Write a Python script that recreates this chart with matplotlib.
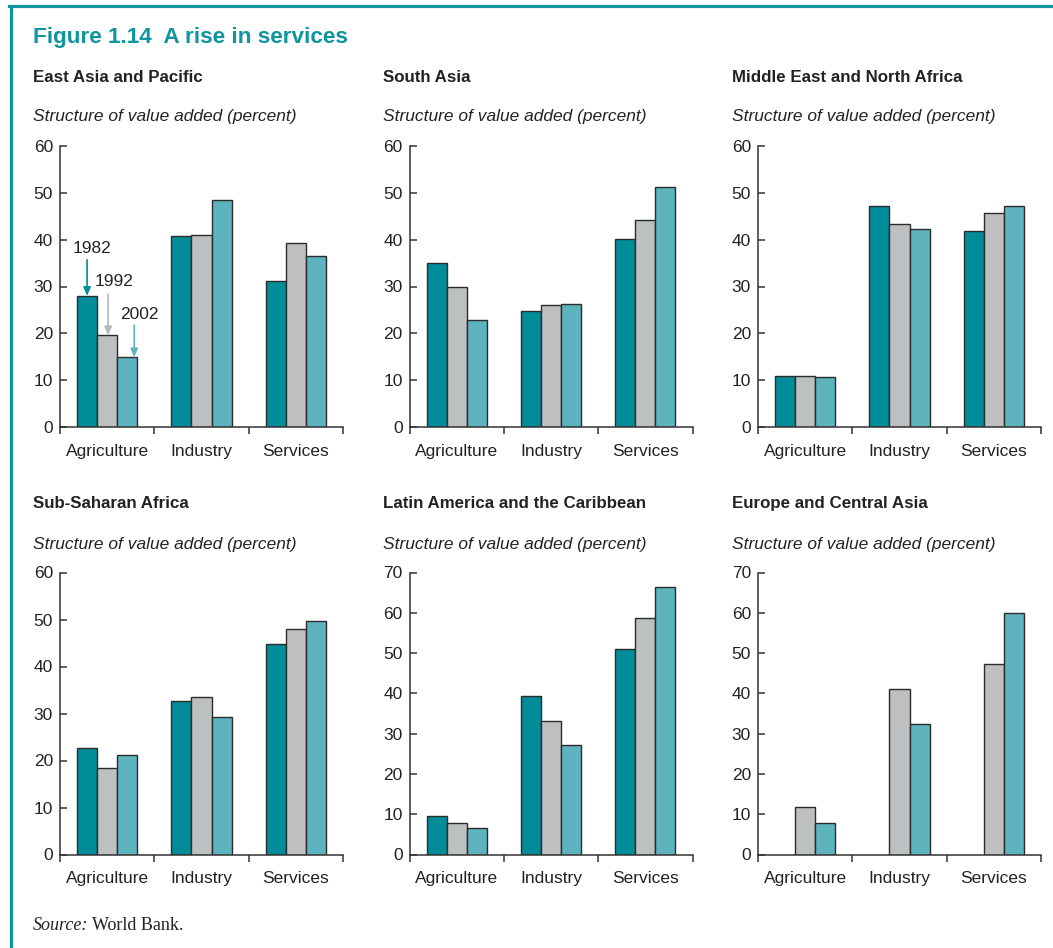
import numpy as np
import matplotlib
matplotlib.use("Agg")
import matplotlib.pyplot as plt
from matplotlib.lines import Line2D

plt.rcParams['font.family'] = ['Liberation Sans', 'DejaVu Sans']

categories = ["Agriculture", "Industry", "Services"]
years = ["1982", "1992", "2002"]

regions = ["East Asia and Pacific", "South Asia", "Middle East and North Africa",
           "Sub-Saharan Africa", "Latin America and the Caribbean", "Europe and Central Asia"]

# values per region: rows = years (1982, 1992, 2002), cols = categories
east_asia = [[28.0, 40.7, 31.2], [19.6, 41.1, 39.3], [14.9, 48.5, 36.5]]
south_asia = [[35.0, 24.8, 40.2], [30.0, 26.0, 44.2], [22.8, 26.2, 51.2]]
mena = [[10.8, 47.2, 41.9], [10.9, 43.4, 45.8], [10.7, 42.2, 47.1]]
ssa = [[22.7, 32.6, 44.7], [18.4, 33.6, 48.0], [21.1, 29.2, 49.7]]
lac = [[9.5, 39.3, 50.9], [7.8, 33.1, 58.8], [6.6, 27.1, 66.3]]
eca = [[np.nan, np.nan, np.nan], [11.7, 41.0, 47.2], [7.7, 32.3, 59.9]]

all_data = [east_asia, south_asia, mena, ssa, lac, eca]
ymax = [60, 60, 60, 60, 70, 70]

colors = ["#008D99", "#BDBFC1", "#5DB3BE"]
teal = "#0E959E"
edge = "#2B2B2B"
axcol = "#333333"
txtcol = "#222222"

W, H = 1053, 948
fig = plt.figure(figsize=(W / 100, H / 100), dpi=100)

# frame lines
fig.add_artist(Line2D([9 / W, 1], [1 - 5.5 / H, 1 - 5.5 / H], transform=fig.transFigure,
                      color=teal, lw=2.3))
fig.add_artist(Line2D([10.5 / W, 10.5 / W], [0, 1 - 5.5 / H], transform=fig.transFigure,
                      color=teal, lw=2.3))

fig.text(33 / W, 1 - 38 / H, "Figure 1.14  A rise in services", color=teal,
         fontsize=16.2, fontweight='bold', family=['Liberation Sans', 'DejaVu Sans'],
         va='center', ha='left')

lefts = [60, 409.5, 758]
row_bottoms = [427, 854.5]
row_tops = [146, 572.5]
title_y = [78, 504]
sub_y = [117, 545]
text_x = [33, 383, 732]
axw = 283

FS = 12.5
bw = 0.213
offsets = [-bw, 0, bw]
xpos = np.arange(len(categories))

for i, (name, data) in enumerate(zip(regions, all_data)):
    r, c = divmod(i, 3)
    b = row_bottoms[r]
    t = row_tops[r]
    ax = fig.add_axes([lefts[c] / W, 1 - b / H, axw / W, (b - t) / H])
    for k in range(3):
        vals = np.array(data[k], dtype=float)
        ax.bar(xpos + offsets[k], vals, width=bw, color=colors[k], edgecolor=edge,
               linewidth=1.0, zorder=2)
    ax.set_xlim(-0.5, 2.5)
    ax.set_ylim(0, ymax[i])
    ax.set_yticks(np.arange(0, ymax[i] + 1, 10))
    ax.set_xticks(xpos)
    ax.set_xticklabels(categories)
    ax.set_xticks([-0.5, 0.5, 1.5, 2.5], minor=True)
    for s in ['top', 'right']:
        ax.spines[s].set_visible(False)
    for s in ['left', 'bottom']:
        ax.spines[s].set_color(axcol)
        ax.spines[s].set_linewidth(1.1)
    ax.tick_params(axis='y', direction='in', length=5.3, width=1.1, color=axcol,
                   labelsize=FS, labelcolor=txtcol, pad=5)
    ax.tick_params(axis='x', which='major', length=0, labelsize=FS, labelcolor=txtcol, pad=12)
    ax.tick_params(axis='x', which='minor', direction='out', length=5.3, width=1.1, color=axcol)
    ax.patch.set_alpha(0)

    fig.text(text_x[c] / W, 1 - title_y[r] / H, name, fontsize=12.2, fontweight='bold',
             color=txtcol, va='center', ha='left')
    fig.text(text_x[c] / W, 1 - sub_y[r] / H, "Structure of value added (percent)",
             fontsize=FS, style='italic', color=txtcol, va='center', ha='left')

    if i == 0:
        # year annotations on agriculture bars
        arrow_dx = [0.0, 0.01, 0.074]
        arrow_len = [7.7, 8.8, 6.8]
        text_dx = [-0.165, 0.07, 0.34]
        text_y = [38.2, 31.0, 24.1]
        acolors = [colors[0], "#B5B7B9", colors[2]]
        for k in range(3):
            xk = xpos[0] + offsets[k] + arrow_dx[k]
            v = data[k][0]
            ax.annotate("", xy=(xk, v), xytext=(xk, v + arrow_len[k]),
                        arrowprops=dict(arrowstyle='-|>,head_length=0.5,head_width=0.22',
                                        color=acolors[k], lw=1.2, shrinkA=0, shrinkB=0))
            ax.text(xpos[0] + text_dx[k], text_y[k], years[k], fontsize=FS, color=txtcol,
                    ha='center', va='center')

serif = ['Liberation Serif', 'DejaVu Serif']
fig.text(33 / W, 1 - 925 / H, "Source:", fontsize=13, style='italic',
         family=serif, color=txtcol, va='center', ha='left')
fig.text(92 / W, 1 - 925 / H, "World Bank.", fontsize=13,
         family=serif, color=txtcol, va='center', ha='left')

fig.savefig("out.png", dpi=100)
